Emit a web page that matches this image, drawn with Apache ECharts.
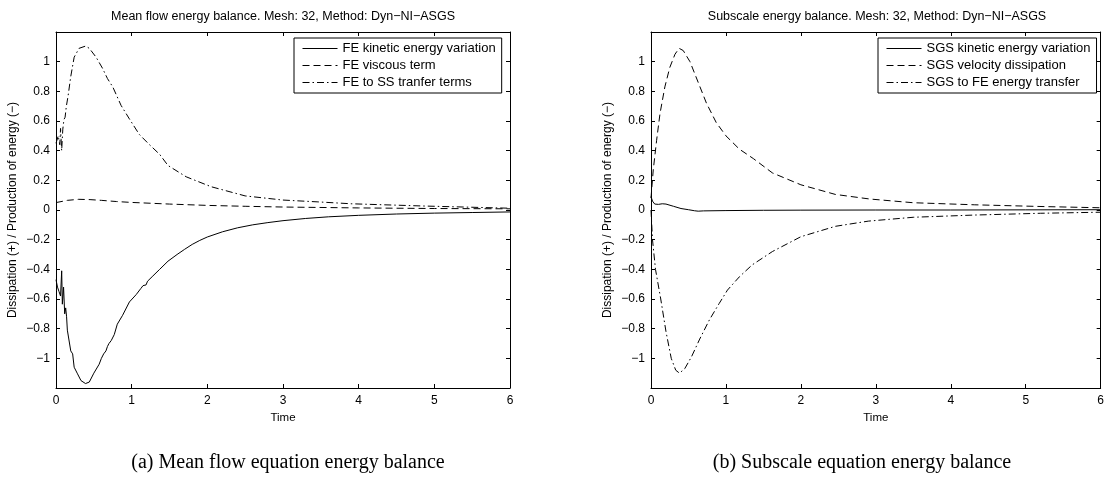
<!DOCTYPE html>
<html>
<head>
<meta charset="utf-8">
<script src="https://cdn.jsdelivr.net/npm/echarts@6/dist/echarts.min.js"></script>
<style>
  html, body { margin: 0; padding: 0; background: #fff; }
  #energy-chart { width: 1107px; height: 477px; }
</style>
</head>
<body>
<div id="energy-chart"></div>
<script>
// values, [time, value]
var feKinetic = [
    [0, -0.47], [0.02, -0.52], [0.04, -0.55], [0.06, -0.58], [0.075, -0.41], [0.084, -0.635],
    [0.1, -0.52], [0.115, -0.7], [0.128, -0.66], [0.14, -0.72], [0.15, -0.81], [0.17, -0.81],
    [0.195, -0.95], [0.22, -0.97], [0.24, -1.06], [0.28, -1.1], [0.33, -1.15], [0.39, -1.17],
    [0.44, -1.16], [0.5, -1.1], [0.57, -1.04], [0.6, -1.0], [0.61, -1.01], [0.63, -0.97],
    [0.66, -0.95], [0.68, -0.92], [0.7, -0.9], [0.73, -0.88], [0.77, -0.84], [0.81, -0.77],
    [0.88, -0.71], [0.97, -0.62], [1.06, -0.57], [1.12, -0.53], [1.15, -0.51], [1.17, -0.5],
    [1.19, -0.505], [1.21, -0.48], [1.23, -0.475], [1.28, -0.445], [1.37, -0.4], [1.48, -0.345],
    [1.6, -0.3], [1.7, -0.265], [1.8, -0.232], [1.9, -0.205], [2.0, -0.182], [2.2, -0.147],
    [2.4, -0.12], [2.6, -0.1], [2.8, -0.085], [3.0, -0.072], [3.3, -0.057], [3.6, -0.046],
    [4.0, -0.036], [4.5, -0.027], [5.0, -0.021], [5.5, -0.017], [6.0, -0.013]
];
var feViscous = [
    [0, 0.05], [0.15, 0.065], [0.3, 0.072], [0.45, 0.07], [0.6, 0.065], [0.8, 0.057],
    [1.0, 0.051], [1.5, 0.04], [2.0, 0.031], [2.5, 0.025], [3.0, 0.02], [4.0, 0.014],
    [5.0, 0.01], [6.0, 0.008]
];
var feTransfer = [
    [0, 0.45], [0.03, 0.5], [0.05, 0.44], [0.06, 0.55], [0.075, 0.4], [0.09, 0.545],
    [0.105, 0.61], [0.12, 0.625], [0.137, 0.7], [0.16, 0.77], [0.195, 0.9], [0.24, 1.03],
    [0.305, 1.09], [0.39, 1.105], [0.44, 1.09], [0.53, 1.03], [0.615, 0.955], [0.68, 0.886],
    [0.75, 0.83], [0.86, 0.705], [0.97, 0.614], [1.1, 0.51], [1.23, 0.443], [1.37, 0.375],
    [1.48, 0.3], [1.72, 0.224], [2.05, 0.157], [2.5, 0.095], [3.0, 0.067], [3.45, 0.055],
    [3.9, 0.042], [4.85, 0.027], [6.0, 0.012]
];
var sgsKinetic = [
    [0, 0.09], [0.02, 0.06], [0.05, 0.04], [0.1, 0.038], [0.15, 0.042], [0.2, 0.04],
    [0.3, 0.025], [0.4, 0.01], [0.5, 0.002], [0.58, -0.005], [0.6, -0.011], [0.63, -0.008],
    [0.7, -0.006], [1.0, -0.004], [1.5, -0.002], [2.0, -0.001], [3.0, 0], [4.0, 0],
    [5.0, 0.001], [6.0, 0.002]
];
var sgsDissipation = [
    [0, 0.08], [0.03, 0.27], [0.075, 0.47], [0.12, 0.65], [0.185, 0.83], [0.25, 0.96],
    [0.32, 1.05], [0.375, 1.09], [0.43, 1.075], [0.52, 1.0], [0.63, 0.86], [0.74, 0.72],
    [0.87, 0.59], [1.0, 0.5], [1.18, 0.41], [1.37, 0.345], [1.62, 0.25], [2.0, 0.17],
    [2.46, 0.105], [2.92, 0.074], [3.5, 0.049], [4.32, 0.035], [5.25, 0.023], [6.0, 0.015]
];
var sgsTransfer = [
    [0, 0.0], [0.02, -0.2], [0.06, -0.4], [0.13, -0.6], [0.2, -0.82], [0.27, -1.0],
    [0.33, -1.08], [0.38, -1.1], [0.45, -1.07], [0.54, -0.99], [0.65, -0.87], [0.78, -0.74],
    [0.91, -0.63], [1.02, -0.54], [1.18, -0.45], [1.35, -0.37], [1.62, -0.28], [2.0, -0.18],
    [2.46, -0.11], [2.9, -0.075], [3.5, -0.049], [4.32, -0.034], [5.2, -0.022], [6.0, -0.015]
];

var panelTitles = [
    'Mean flow energy balance. Mesh: 32, Method: Dyn\u2212NI\u2212ASGS',
    'Subscale energy balance. Mesh: 32, Method: Dyn\u2212NI\u2212ASGS'
];
var captions = ['(a) Mean flow equation energy balance', '(b) Subscale equation energy balance'];
var leftNames = ['FE kinetic energy variation', 'FE viscous term', 'FE to SS tranfer terms'];
var rightNames = ['SGS kinetic energy variation', 'SGS velocity dissipation', 'SGS to FE energy transfer'];
var yName = 'Dissipation (+) / Production of energy (\u2212)';
var xName = 'Time';

var chart = echarts.init(document.getElementById('energy-chart'));
var SANS = 'Liberation Sans, Arial, sans-serif';

var grids = [
    {left: 56, top: 32, width: 454, height: 356},
    {left: 651, top: 32, width: 452, height: 356}
];

function yLabel(v) {
    if (Math.abs(Math.abs(v) - 1.2) < 1e-6) return '';
    var r = Math.round(v * 10) / 10;
    return String(r).replace('-', '\u2212');
}

var tickStyle = {show: true, inside: true, length: 4, lineStyle: {color: '#000', width: 1}};
var lineStyle = {show: true, onZero: false, lineStyle: {color: '#000', width: 1}};

var xAxis = [], yAxis = [];
for (var g = 0; g < 2; g++) {
    xAxis.push({
        gridIndex: g, type: 'value', min: 0, max: 6, interval: 1, position: 'bottom',
        name: xName, nameLocation: 'middle', nameGap: 19,
        nameTextStyle: {color: '#000', fontSize: 11.5, fontFamily: SANS},
        axisLine: lineStyle, axisTick: tickStyle, splitLine: {show: false},
        axisLabel: {color: '#000', fontSize: 12, fontFamily: SANS, margin: 7}
    });
    xAxis.push({
        gridIndex: g, type: 'value', min: 0, max: 6, interval: 1, position: 'top',
        axisLine: lineStyle, axisTick: tickStyle, splitLine: {show: false},
        axisLabel: {show: false}
    });
    yAxis.push({
        gridIndex: g, type: 'value', min: -1.2, max: 1.2, interval: 0.2, position: 'left',
        name: yName, nameLocation: 'middle', nameRotate: 90, nameGap: 37,
        nameTextStyle: {color: '#000', fontSize: 12, fontFamily: SANS},
        axisLine: lineStyle, axisTick: tickStyle, splitLine: {show: false},
        axisLabel: {color: '#000', fontSize: 12, fontFamily: SANS, margin: 6, formatter: yLabel}
    });
    yAxis.push({
        gridIndex: g, type: 'value', min: -1.2, max: 1.2, interval: 0.2, position: 'right',
        axisLine: lineStyle, axisTick: tickStyle, splitLine: {show: false},
        axisLabel: {show: false}
    });
}

var dashTypes = ['solid', [7, 4], [7, 3, 1.5, 3]];

function makeSeries(name, data, k, panel) {
    return {
        name: name, type: 'line', data: data,
        xAxisIndex: panel * 2, yAxisIndex: panel * 2,
        symbol: 'none', showSymbol: false, animation: false,
        itemStyle: {color: '#000'},
        lineStyle: {color: '#000', width: 1, type: dashTypes[k]}
    };
}

var series = [
    makeSeries(leftNames[0], feKinetic, 0, 0),
    makeSeries(leftNames[1], feViscous, 1, 0),
    makeSeries(leftNames[2], feTransfer, 2, 0),
    makeSeries(rightNames[0], sgsKinetic, 0, 1),
    makeSeries(rightNames[1], sgsDissipation, 1, 1),
    makeSeries(rightNames[2], sgsTransfer, 2, 1)
];

function legendFor(names, left) {
    return {
        data: names, orient: 'vertical', left: left, top: 38,
        itemWidth: 35, itemHeight: 12, itemGap: 4,
        padding: [4, 6, 4, 8],
        backgroundColor: '#fff', borderColor: '#000', borderWidth: 1, borderRadius: 0,
        selectedMode: false,
        itemStyle: {opacity: 0},
        lineStyle: {width: 1, color: '#000'},
        textStyle: {color: '#000', fontSize: 13, fontFamily: SANS}
    };
}

option = {
    backgroundColor: '#fff',
    animation: false,
    grid: grids,
    xAxis: xAxis,
    yAxis: yAxis,
    legend: [legendFor(leftNames, 294), legendFor(rightNames, 878)],
    series: series,
    graphic: [
        {type: 'text', x: 283, y: 17, style: {text: panelTitles[0], align: 'center', verticalAlign: 'middle', fill: '#000', font: '12.5px ' + SANS}},
        {type: 'text', x: 877, y: 17, style: {text: panelTitles[1], align: 'center', verticalAlign: 'middle', fill: '#000', font: '12.5px ' + SANS}},
        {type: 'text', x: 288, y: 463, style: {text: captions[0], align: 'center', verticalAlign: 'middle', fill: '#000', font: '20px Liberation Serif, serif'}},
        {type: 'text', x: 862, y: 463, style: {text: captions[1], align: 'center', verticalAlign: 'middle', fill: '#000', font: '20px Liberation Serif, serif'}}
    ]
};

chart.setOption(option);
</script>
</body>
</html>
